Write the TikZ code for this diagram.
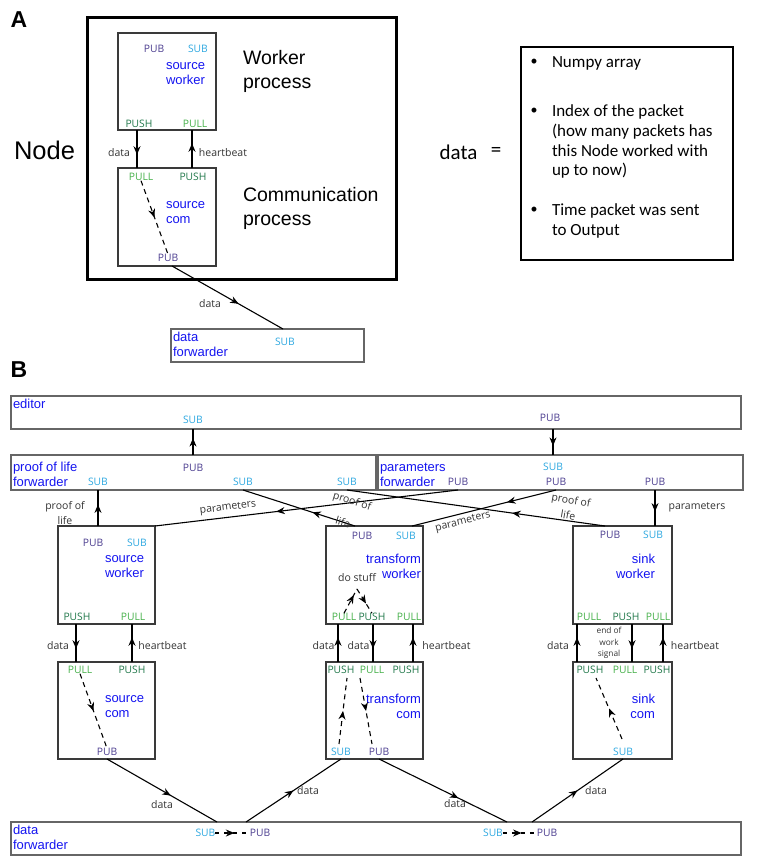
\documentclass[tikz,border=0pt]{standalone}
\usepackage{fontspec}
\setmainfont{Liberation Sans}
\newfontfamily\portf{Open Sans}
\newfontfamily\calf{Carlito}
\usetikzlibrary{arrows.meta,decorations.markings}
\definecolor{pubc}{HTML}{4B3D8F}
\definecolor{subc}{HTML}{2EA8E0}
\definecolor{pushc}{HTML}{21784A}
\definecolor{pullc}{HTML}{46B04A}
\definecolor{namec}{HTML}{1414F0}
\definecolor{lblc}{HTML}{333333}
\definecolor{boxc}{HTML}{3A3A3A}
\definecolor{fwdc}{HTML}{666666}
\newcommand\mybox[6]{\node[#6, minimum width={(#4)-(#2)}, minimum height={(#5)-(#3)}] (#1) at ({((#2)+(#4))/2},{((#3)+(#5))/2}) {};}
\tikzset{
  port/.style={font=\portf\fontsize{10.3}{12}\selectfont},
  pub/.style={port, text=pubc},
  sub/.style={port, text=subc},
  push/.style={port, text=pushc},
  pull/.style={port, text=pullc},
  nm/.style={font=\fontsize{13}{15}\selectfont, text=namec, align=left},
  nmr/.style={nm, align=right, anchor=east},
  lbl/.style={font=\portf\fontsize{10.5}{13}\selectfont, text=lblc, align=center},
  wbox/.style={draw=boxc, line width=1.2pt},
  fbox/.style={draw=fwdc, line width=1.3pt},
  conn/.style={line width=1.1pt, draw=black},
  midarr/.style={postaction={decorate}, decoration={markings, mark=at position #1 with {\arrow{Stealth[length=8.5pt,width=7pt]}}}},
  dsh/.style={conn, dash pattern=on 5pt off 4pt},
  bigtext/.style={font=\fontsize{19.5}{24}\selectfont, align=left, anchor=west},
  bullet/.style={font=\calf\fontsize{14}{20}\selectfont},
  btext/.style={font=\calf\fontsize{17}{20}\selectfont, anchor=west}
}
\begin{document}
\begin{tikzpicture}[x=1pt, y=-1pt, every node/.style={inner sep=0pt, outer sep=0pt}]
\useasboundingbox (0,0) rectangle (756,866);
% ---------------- Part A ----------------
\node[font=\bfseries\fontsize{23}{23}\selectfont] (labA) at (19,20) {A};
\mybox{bigA}{87}{18}{396}{279}{draw, line width=3pt}
\mybox{wA}{118}{33}{216}{130}{wbox}
\node[pub] (wApub) at (154,49) {PUB};
\node[sub] (wAsub) at (198,49) {SUB};
\node[nm, anchor=west] (wAnm) at (166,73.5) {source\\worker};
\node[push] (wApush) at (139,124) {PUSH};
\node[pull] (wApull) at (195,124) {PULL};
\mybox{cA}{118}{168}{216}{266}{wbox}
\node[pull] (cApull) at (141,177) {PULL};
\node[push] (cApush) at (193,177) {PUSH};
\node[nm, anchor=west] (cAnm) at (166,212.5) {source\\com};
\node[pub] (cApub) at (168,258) {PUB};
\coordinate (xA1) at (137,0);
\coordinate (xA2) at (192,0);
\draw[conn, midarr=0.65] (wA.south -| xA1) -- (cA.north -| xA1);
\draw[conn, midarr=0.65] (cA.north -| xA2) -- (wA.south -| xA2);
\node[lbl] (lAdata) at (119,153) {data};
\node[lbl] (lAhb) at (223,153) {heartbeat};
\draw[dsh, midarr=0.5] (cApull.south) -- (cApub.north);
\node[bigtext] (wproc) at (243,71) {Worker\\process};
\node[bigtext] (cproc) at (243,208) {Communication\\process};
\node[font=\fontsize{25.5}{28}\selectfont] (nodelbl) at (44.5,150) {Node};
\mybox{dfA}{171}{329}{364}{362}{fbox}
\node[nm, anchor=west] (dfAnm) at (173,344.5) {data\\forwarder};
\node[sub] (dfAsub) at (285,342) {SUB};
\coordinate (xA3) at (172,0);
\coordinate (xA4) at (283,0);
\draw[conn, midarr=0.6] (cA.south -| xA3) -- (dfA.north -| xA4);
\node[lbl] (lAd2) at (210,304) {data};
% data box
\node[font=\calf\fontsize{21}{24}\selectfont] (dataeq) at (458.5,152) {data};
\node[font=\calf\fontsize{21}{24}\selectfont] (eqsign) at (496,152) {=};
\mybox{dbox}{521}{47}{733}{260}{draw, line width=1.8pt}
\node[bullet] (bu1) at (534,62) {•};
\node[bullet] (bu2) at (534,111) {•};
\node[bullet] (bu3) at (534,210) {•};
\node[btext] (t1) at (552,63) {Numpy array};
\node[btext] (t2) at (552,112) {Index of the packet};
\node[btext] (t3) at (552,131.5) {(how many packets has};
\node[btext] (t4) at (552,151) {this Node worked with};
\node[btext] (t5) at (552,170.5) {up to now)};
\node[btext] (t6) at (552,211) {Time packet was sent};
\node[btext] (t7) at (552,231) {to Output};
% ---------------- Part B ----------------
\node[font=\bfseries\fontsize{23}{23}\selectfont] (labB) at (19,370) {B};
\mybox{ed}{11}{396}{741}{429}{fbox}
\node[nm, anchor=west] (ednm) at (13,404) {editor};
\node[sub] (edsub) at (193,420) {SUB};
\node[pub] (edpub) at (550,418) {PUB};
\mybox{plf}{11}{455}{376}{490}{fbox}
\node[nm, anchor=west] (plfnm) at (13,474.5) {proof of life\\forwarder};
\node[pub] (plfpub) at (193,468) {PUB};
\node[sub] (plfs1) at (98,482) {SUB};
\node[sub] (plfs2) at (243,482) {SUB};
\node[sub] (plfs3) at (347,482) {SUB};
\mybox{pf}{378}{455}{743}{490}{fbox}
\node[nm, anchor=west] (pfnm) at (380,474.5) {parameters\\forwarder};
\node[sub] (pfsub) at (553,467) {SUB};
\node[pub] (pfp1) at (458,482) {PUB};
\node[pub] (pfp2) at (556,482) {PUB};
\node[pub] (pfp3) at (655,482) {PUB};
\draw[conn, midarr=0.65] (plf.north -| plfpub) -- (ed.south -| plfpub);
\draw[conn, midarr=0.65] (ed.south -| pfsub) -- (pf.north -| pfsub);
% source worker / com
\mybox{sw}{58}{526}{155}{624}{wbox}
\node[pub] (swpub) at (93,543) {PUB};
\node[sub] (swsub) at (137,543) {SUB};
\node[nm, anchor=west] (swnm) at (105,566.5) {source\\worker};
\node[push] (swpush) at (77,617) {PUSH};
\node[pull] (swpull) at (133,617) {PULL};
\mybox{sc}{58}{662}{155}{759}{wbox}
\node[pull] (scpull) at (80,670) {PULL};
\node[push] (scpush) at (132,670) {PUSH};
\node[nm, anchor=west] (scnm) at (105,706.5) {source\\com};
\node[pub] (scpub) at (107,752) {PUB};
\coordinate (xs1) at (76,0);
\coordinate (xs2) at (132,0);
\draw[conn, midarr=0.65] (sw.south -| xs1) -- (sc.north -| xs1);
\draw[conn, midarr=0.65] (sc.north -| xs2) -- (sw.south -| xs2);
\node[lbl] (lsd) at (58,646) {data};
\node[lbl] (lshb) at (162.5,646) {heartbeat};
\draw[dsh, midarr=0.5] (scpull.south) -- (scpub.north);
% transform worker / com
\mybox{tw}{326}{526}{423}{624}{wbox}
\node[pub] (twpub) at (362,536) {PUB};
\node[sub] (twsub) at (406,536) {SUB};
\node[nmr] (twnm) at (421,566.5) {transform\\worker};
\node[lbl] (twdo) at (357,578) {do stuff};
\node[pull] (twpl1) at (344,617) {PULL};
\node[push] (twps) at (372,617) {PUSH};
\node[pull] (twpl2) at (409,617) {PULL};
\coordinate (twtop) at (357,589);
\draw[dsh, midarr=0.75] (twpl1.north) -- (twtop);
\draw[dsh, midarr=0.6] (twtop) -- (twps.north);
\mybox{tc}{326}{662}{423}{759}{wbox}
\node[push] (tcps1) at (341,670) {PUSH};
\node[pull] (tcpl) at (372,670) {PULL};
\node[push] (tcps2) at (406,670) {PUSH};
\node[nmr] (tcnm) at (421,706.5) {transform\\com};
\node[sub] (tcsub) at (341,752) {SUB};
\node[pub] (tcpub) at (379,752) {PUB};
\coordinate (xt1) at (338,0);
\coordinate (xt2) at (373,0);
\coordinate (xt3) at (413,0);
\draw[conn, midarr=0.65] (tc.north -| xt1) -- (tw.south -| xt1);
\draw[conn, midarr=0.65] (tw.south -| xt2) -- (tc.north -| xt2);
\draw[conn, midarr=0.65] (tc.north -| xt3) -- (tw.south -| xt3);
\node[lbl] (ltd1) at (323.5,646) {data};
\node[lbl] (ltd2) at (358.5,646) {data};
\node[lbl] (lthb) at (446.5,646) {heartbeat};
\coordinate (tcu1) at (339,744);
\coordinate (tcu2) at (347,678);
\coordinate (tcd1) at (360,678);
\coordinate (tcd2) at (372,744);
\draw[dsh, midarr=0.5] (tcu1) -- (tcu2);
\draw[dsh, midarr=0.5] (tcd1) -- (tcd2);
% sink worker / com
\mybox{sk}{573}{526}{672}{624}{wbox}
\node[pub] (skpub) at (610,535) {PUB};
\node[sub] (sksub) at (653,535) {SUB};
\node[nmr] (sknm) at (655,566.5) {sink\\worker};
\node[pull] (skpl1) at (589,617) {PULL};
\node[push] (skps) at (626,617) {PUSH};
\node[pull] (skpl2) at (658,617) {PULL};
\mybox{skc}{573}{662}{672}{759}{wbox}
\node[push] (skcps1) at (590,670) {PUSH};
\node[pull] (skcpl) at (625,670) {PULL};
\node[push] (skcps2) at (657,670) {PUSH};
\node[nmr] (skcnm) at (655,706.5) {sink\\com};
\node[sub] (skcsub) at (623,752) {SUB};
\coordinate (xk1) at (577,0);
\coordinate (xk2) at (632,0);
\coordinate (xk3) at (663,0);
\draw[conn, midarr=0.65] (skc.north -| xk1) -- (sk.south -| xk1);
\draw[conn, midarr=0.65] (sk.south -| xk2) -- (skc.north -| xk2);
\draw[conn, midarr=0.65] (skc.north -| xk3) -- (sk.south -| xk3);
\node[lbl] (lkd) at (558,646) {data};
\node[lbl, font=\portf\fontsize{8.3}{11.7}\selectfont] (lkend) at (609,643) {end of\\work\\signal};
\node[lbl] (lkhb) at (695,646) {heartbeat};
\coordinate (sku1) at (622,739);
\coordinate (sku2) at (596,678);
\draw[dsh, midarr=0.5] (sku1) -- (sku2);
% bottom data forwarder
\mybox{df}{11}{822}{741}{855}{fbox}
\node[nm, anchor=west] (dfnm) at (13,837.5) {data\\forwarder};
\node[sub] (dfs1) at (205.5,833) {SUB};
\node[pub] (dfp1) at (260,833) {PUB};
\node[sub] (dfs2) at (493,833) {SUB};
\node[pub] (dfp2) at (547,833) {PUB};
\draw[conn, dash pattern=on 4pt off 5pt, midarr=0.55] (dfs1.east) -- (dfp1.west);
\draw[conn, dash pattern=on 4pt off 5pt, midarr=0.55] (dfs2.east) -- (dfp2.west);
\coordinate (xd1) at (217,0);
\coordinate (xd2) at (246,0);
\coordinate (xd3) at (507,0);
\coordinate (xd4) at (532,0);
\draw[conn, midarr=0.58] (sc.south -| scpub) -- (df.north -| xd1);
\draw[conn, midarr=0.5] (df.north -| xd2) -- (tc.south -| tcsub);
\draw[conn, midarr=0.62] (tc.south -| tcpub) -- (df.north -| xd3);
\draw[conn, midarr=0.5] (df.north -| xd4) -- (skc.south -| skcsub);
\node[lbl] (ld1) at (162,805) {data};
\node[lbl] (ld2) at (308,791) {data};
\node[lbl] (ld3) at (455,804) {data};
\node[lbl] (ld4) at (596,791) {data};
% cross connections
\draw[conn, midarr=0.6] (sw.north -| plfs1) -- (plf.south -| plfs1);
\node[lbl] (lpol1a) at (65,507) {proof of};
\node[lbl] (lpol1b) at (65,521) {life};
\draw[conn, midarr=0.6] (pf.south -| pfp1) -- (sw.north east);
\node[lbl, rotate=7] (lpar1) at (228,508) {parameters};
\coordinate (xc1) at (355,0);
\draw[conn, midarr=0.38] (tw.north -| xc1) -- (plf.south -| plfs2);
\node[lbl, rotate=-17] (lpol2a) at (352,502) {proof of};
\node[lbl, rotate=-17] (lpol2b) at (343,522) {life};
\coordinate (xc2) at (412,0);
\draw[conn, midarr=0.34] (pf.south -| pfp2) -- (tw.north -| xc2);
\node[lbl, rotate=14] (lpar2) at (463,522) {parameters};
\coordinate (xc3) at (605,0);
\draw[conn, midarr=0.36] (sk.north -| xc3) -- (plf.south -| plfs3);
\node[lbl, rotate=-10] (lpol3a) at (571,501) {proof of};
\node[lbl, rotate=-10] (lpol3b) at (568,515) {life};
\draw[conn, midarr=0.6] (pf.south -| pfp3) -- (sk.north -| pfp3);
\node[lbl] (lpar3) at (697,507) {parameters};
\end{tikzpicture}
\end{document}
